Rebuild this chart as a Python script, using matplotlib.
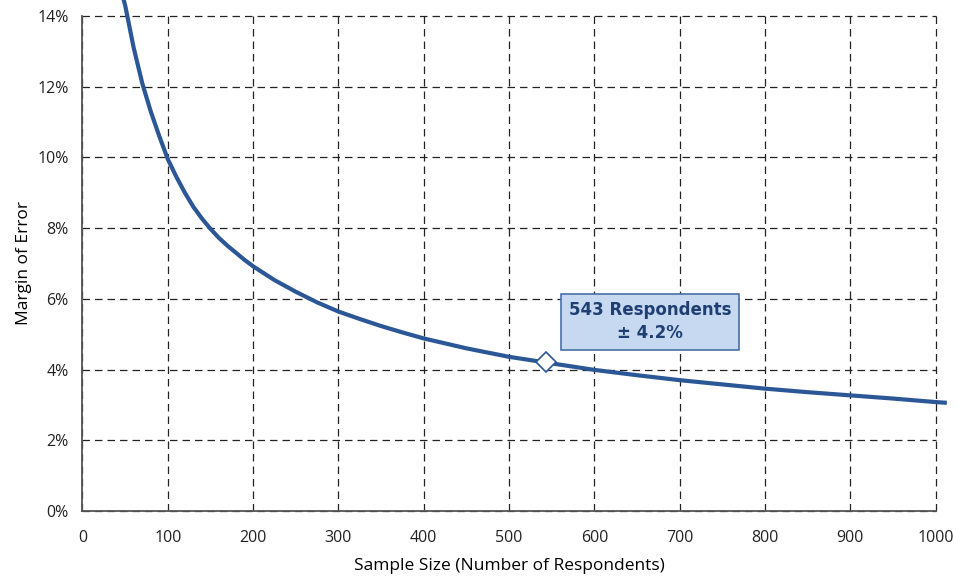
import matplotlib
matplotlib.use('Agg')
import matplotlib.pyplot as plt
from matplotlib.ticker import FuncFormatter

# margin of error (%), by number of respondents
sample_size = [45, 50, 60, 70, 80, 90, 100, 110, 120, 130, 140, 150, 160, 170, 180, 190, 200,
               225, 250, 275, 300, 325, 350, 375, 400, 450, 500, 543, 600, 650, 700,
               750, 800, 850, 900, 950, 1000, 1013]
margin = [14.75, 14.3, 13.1, 12.1, 11.3, 10.6, 9.95, 9.45, 9.0, 8.6, 8.27, 7.98, 7.72, 7.5, 7.3, 7.1, 6.92,
          6.53, 6.2, 5.9, 5.64, 5.43, 5.23, 5.05, 4.88, 4.6, 4.36, 4.2, 3.99, 3.84, 3.7,
          3.58, 3.46, 3.36, 3.27, 3.18, 3.08, 3.06]

pick_n = 543
pick_moe = 4.2

x_ticks = list(range(0, 1001, 100))
y_ticks = list(range(0, 15, 2))

plt.rcParams['font.family'] = ['Open Sans', 'DejaVu Sans']

fig = plt.figure(figsize=(9.57, 5.77), dpi=100)
ax = fig.add_axes([0.0862, 0.1144, 0.8916, 0.8579])

blue = '#2c5796'
ax.plot(sample_size, margin, color=blue, lw=3.0, clip_on=False, zorder=3,
        solid_capstyle='butt')
ax.plot([pick_n], [pick_moe], marker='D', ms=10, mfc='white', mec=blue, mew=1.2,
        clip_on=False, zorder=4)

ax.set_xlim(0, 1000)
ax.set_ylim(0, 14)
ax.set_xticks(x_ticks)
ax.set_yticks(y_ticks)
ax.yaxis.set_major_formatter(FuncFormatter(lambda v, p: '%d%%' % v))
ax.tick_params(length=0, labelsize=11.5, colors='#222222')
ax.tick_params(axis='y', pad=10)
ax.tick_params(axis='x', pad=14)

ax.grid(True, color='#222222', ls=(0, (6, 4)), lw=0.9, zorder=1)
# keep the edge grid lines (1000 and 14%) from being half clipped
for gl in ax.get_xgridlines() + ax.get_ygridlines():
    gl.set_clip_on(False)
for s in ['top', 'right']:
    ax.spines[s].set_visible(False)
for s in ['left', 'bottom']:
    ax.spines[s].set_color('#555555')
    ax.spines[s].set_linewidth(1.3)
    ax.spines[s].set_zorder(2.5)

ax.set_xlabel('Sample Size (Number of Respondents)', fontsize=12.5, labelpad=8)
ax.set_ylabel('Margin of Error', fontsize=12.5, labelpad=4)

ax.annotate('%d Respondents\n± %.1f%%' % (pick_n, pick_moe),
            xy=(pick_n, pick_moe), xytext=(665, 5.35),
            ha='center', va='center', fontsize=12, fontweight='bold',
            color='#1f3f73', family='DejaVu Sans', linespacing=1.35, zorder=5,
            bbox=dict(boxstyle='square,pad=0.45', fc='#c6d9f0', ec='#4a6fa5', lw=1.2))

fig.savefig('out.png', dpi=100)
